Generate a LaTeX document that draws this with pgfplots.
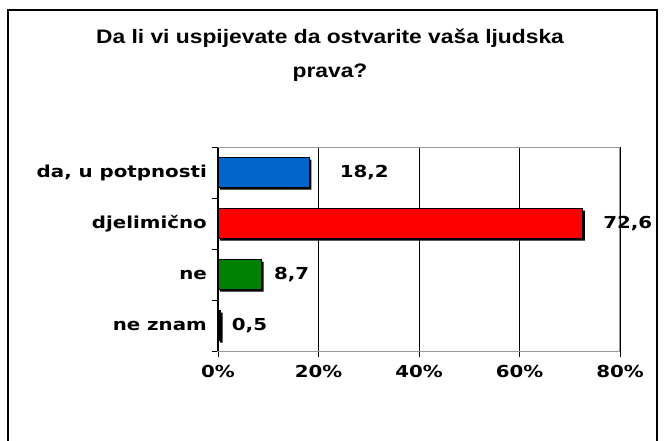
\documentclass[border=0pt]{standalone}
\usepackage{pgfplots}
\pgfplotsset{compat=1.18}
\usepackage{fontspec}
\setmainfont{DejaVu Sans}
\newfontfamily\lbl[FakeStretch=1.2]{DejaVu Sans}
\newfontfamily\ttl[FakeStretch=1.17]{Liberation Sans}
\definecolor{barblue}{HTML}{0066CC}
\definecolor{barred}{HTML}{FF0000}
\definecolor{bargreen}{HTML}{008000}
\begin{document}
\begin{tikzpicture}[x=1pt,y=1pt]
\useasboundingbox (0,0) rectangle (665,440);
\draw[line width=1.3pt] (8,-5) -- (8,430) -- (657,430) -- (657,-5);
\node[font=\ttl\bfseries\fontsize{19.5}{23}\selectfont, anchor=base] at (330,396) {Da li vi uspijevate da ostvarite vaša ljudska};
\node[font=\ttl\bfseries\fontsize{19.5}{23}\selectfont, anchor=base] at (330,362) {prava?};
\begin{axis}[
  at={(218pt,89pt)}, anchor=south west,
  width=402pt, height=204pt, scale only axis,
  xmin=0, xmax=80, ymin=0.5, ymax=4.5,
  xtick={0,20,40,60,80},
  xticklabels={0\%,20\%,40\%,60\%,80\%},
  ytick={1,2,3,4},
  yticklabels={ne znam,ne,djelimično,{da, u potpnosti}},
  minor ytick={0.5,1.5,2.5,3.5,4.5},
  tick pos=left,
  tick align=outside,
  major tick length=6pt,
  minor tick length=6pt,
  ytick style={draw=none},
  minor y tick style={draw=black, line width=0.9pt},
  x tick style={draw=black, line width=0.9pt},
  xmajorgrids,
  major grid style={draw=black, line width=0.8pt},
  axis line style={draw=gray!80, line width=1pt},
  ticklabel style={font=\lbl\bfseries\fontsize{16.5}{19}\selectfont},
  yticklabel style={inner sep=0pt, xshift=-5pt},
  xticklabel style={inner sep=0pt, yshift=-8pt},
  /pgf/number format/assume math mode=true,
  nodes near coords={\pgfmathprintnumber[fixed,fixed zerofill,precision=1,use comma,assume math mode=true]{\pgfplotspointmeta}},
  point meta=x,
  every node near coord/.append style={font=\lbl\bfseries\fontsize{16.5}{19}\selectfont, anchor=west, inner sep=0pt, text=black},
  clip=false,
]
% shadow
\addplot[xbar, bar width=30pt, bar shift=0pt, fill=black, draw=none, xshift=2pt, yshift=-2pt, nodes near coords={}] coordinates {(18.2,4) (72.6,3) (8.7,2) (0.5,1)};
\addplot[xbar, bar width=30pt, bar shift=0pt, fill=barblue, draw=black, line width=0.9pt, every node near coord/.append style={xshift=30pt}] coordinates {(18.2,4)};
\addplot[xbar, bar width=30pt, bar shift=0pt, fill=barred, draw=black, line width=0.9pt, every node near coord/.append style={xshift=20pt}] coordinates {(72.6,3)};
\addplot[xbar, bar width=30pt, bar shift=0pt, fill=bargreen, draw=black, line width=0.9pt, every node near coord/.append style={xshift=12pt}] coordinates {(8.7,2)};
\addplot[xbar, bar width=30pt, bar shift=0pt, fill=black, draw=black, line width=0.9pt, every node near coord/.append style={xshift=11pt}] coordinates {(0.5,1)};
\draw[black, line width=1pt] (rel axis cs:0,0) -- (rel axis cs:0,1);
\end{axis}
\end{tikzpicture}
\end{document}
